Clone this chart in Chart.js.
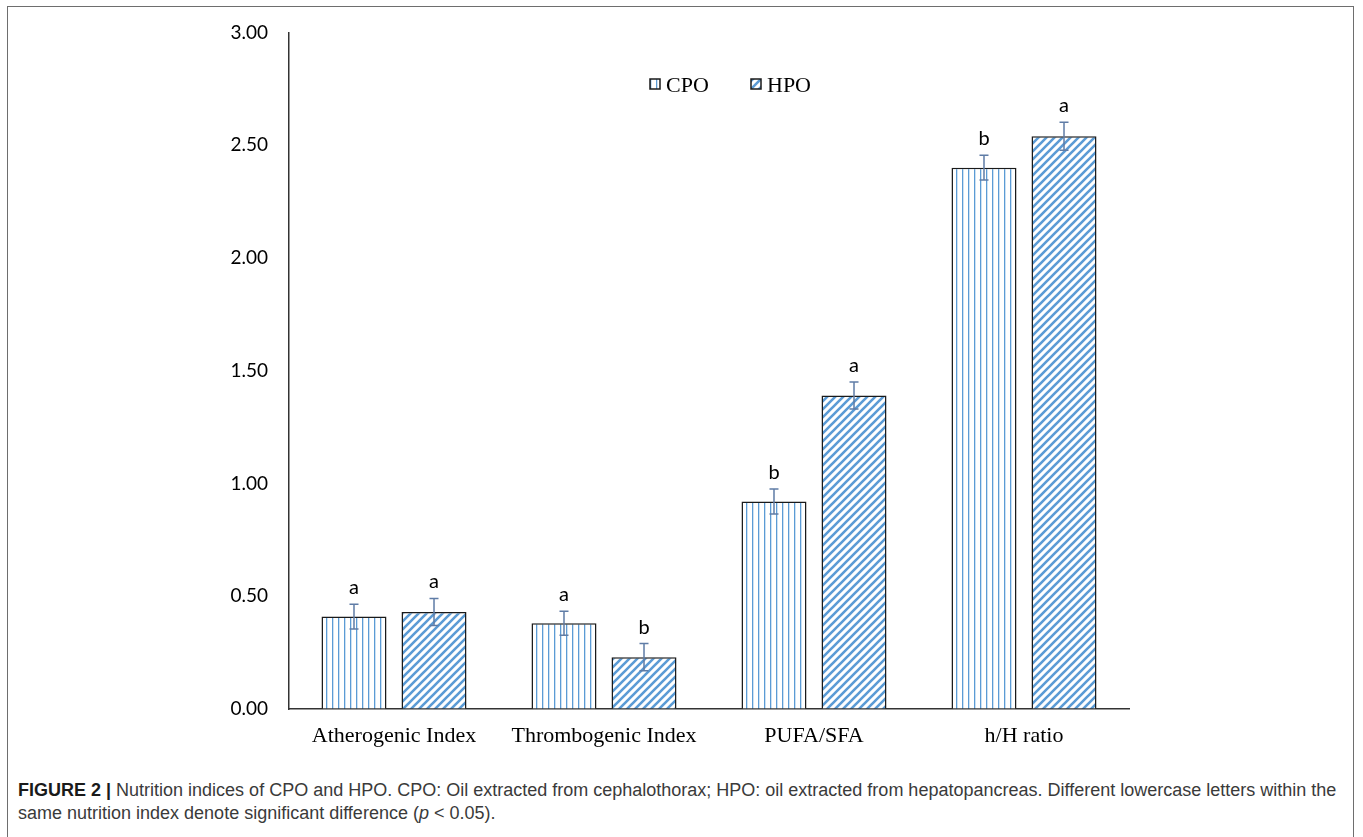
<!DOCTYPE html>
<html>
<head>
<meta charset="utf-8">
<script src="https://cdn.jsdelivr.net/npm/chart.js@4.4.0/dist/chart.umd.min.js"></script>
<style>
  html, body { margin: 0; padding: 0; background: #fff; }
  body { width: 1363px; height: 837px; position: relative; overflow: hidden; }
  #frame { position: absolute; left: 7px; top: 6px; width: 1347px; height: 860px; border: 1.5px solid #6e6e6e; box-sizing: border-box; }
  #grafico { position: absolute; left: 0; top: 0; }
  #legenda { position: absolute; left: 18px; top: 779px; font-family: "Liberation Sans", Arial, sans-serif; font-size: 18px; line-height: 23px; color: #3a3a3a; white-space: nowrap; }
  #legenda b { color: #1a1a1a; }
</style>
</head>
<body>
<div id="frame"></div>
<canvas id="grafico" width="1363" height="775"></canvas>
<div id="legenda"><b>FIGURE 2 |</b> Nutrition indices of CPO and HPO. CPO: Oil extracted from cephalothorax; HPO: oil extracted from hepatopancreas. Different lowercase letters within the<br>same nutrition index denote significant difference (<i>p</i> &lt; 0.05).</div>
<script>
const indices = ['Atherogenic Index', 'Thrombogenic Index', 'PUFA/SFA', 'h/H ratio'];
const series = ['CPO', 'HPO'];
const cpo = [0.41, 0.38, 0.92, 2.40];
const hpo = [0.43, 0.23, 1.39, 2.54];
const cpoErro = [0.055, 0.053, 0.055, 0.055];
const hpoErro = [0.06, 0.06, 0.06, 0.062];
const cpoLetras = ['a', 'a', 'b', 'b'];
const hpoLetras = ['a', 'b', 'a', 'a'];
const yTicks = [0, 0.5, 1, 1.5, 2, 2.5, 3];

const azul = '#5b9bd5';

// listras verticais (CPO)
function padraoVertical() {
  const c = document.createElement('canvas');
  c.width = 6; c.height = 6;
  const g = c.getContext('2d');
  g.fillStyle = '#fff';
  g.fillRect(0, 0, 6, 6);
  g.fillStyle = azul;
  g.fillRect(2, 0, 1.3, 6);
  return g.createPattern(c, 'repeat');
}

// listras diagonais (HPO), periodo 8
function padraoDiagonal() {
  const c = document.createElement('canvas');
  c.width = 8; c.height = 8;
  const g = c.getContext('2d');
  g.fillStyle = '#fff';
  g.fillRect(0, 0, 8, 8);
  g.strokeStyle = azul;
  g.lineWidth = 2.6;
  g.beginPath();
  g.moveTo(-1, 9); g.lineTo(9, -1);
  g.moveTo(-5, 5); g.lineTo(5, -5);
  g.moveTo(3, 13); g.lineTo(13, 3);
  g.stroke();
  return g.createPattern(c, 'repeat');
}

const erros = [cpoErro, hpoErro];
const letras = [cpoLetras, hpoLetras];

const errosPlugin = {
  id: 'errosLetras',
  afterDatasetsDraw(chart) {
    const ctx = chart.ctx;
    const y = chart.scales.y;
    chart.data.datasets.forEach((ds, i) => {
      const meta = chart.getDatasetMeta(i);
      meta.data.forEach((bar, j) => {
        const v = ds.data[j];
        const e = erros[i][j];
        const yt = y.getPixelForValue(v + e);
        const yb = y.getPixelForValue(v - e);
        ctx.save();
        ctx.strokeStyle = '#5f7ca6';
        ctx.lineWidth = 1.5;
        ctx.beginPath();
        ctx.moveTo(bar.x, yt); ctx.lineTo(bar.x, yb);
        ctx.moveTo(bar.x - 4.5, yt); ctx.lineTo(bar.x + 4.5, yt);
        ctx.moveTo(bar.x - 4.5, yb); ctx.lineTo(bar.x + 4.5, yb);
        ctx.stroke();
        ctx.fillStyle = '#000';
        ctx.font = '20px Lato';
        ctx.textAlign = 'center';
        ctx.textBaseline = 'alphabetic';
        ctx.fillText(letras[i][j], bar.x, yt - 10);
        ctx.restore();
      });
    });
  },
  afterDraw(chart) {
    // legenda desenhada a mao
    const ctx = chart.ctx;
    const pos = [650, 751];
    chart.data.datasets.forEach((ds, i) => {
      const x = pos[i];
      ctx.save();
      ctx.fillStyle = ds.backgroundColor;
      ctx.fillRect(x, 79, 10, 10);
      ctx.strokeStyle = '#1a1a1a';
      ctx.lineWidth = 1.5;
      ctx.strokeRect(x, 79, 10, 10);
      ctx.fillStyle = '#000';
      ctx.font = '22px "Liberation Serif"';
      ctx.textAlign = 'left';
      ctx.textBaseline = 'alphabetic';
      ctx.fillText(ds.label, x + 16, 92);
      ctx.restore();
    });
  }
};

new Chart(document.getElementById('grafico').getContext('2d'), {
  type: 'bar',
  data: {
    labels: indices,
    datasets: [{
      label: series[0],
      data: cpo,
      backgroundColor: padraoVertical(),
      borderColor: '#1a1a1a',
      borderWidth: 1.5
    }, {
      label: series[1],
      data: hpo,
      backgroundColor: padraoDiagonal(),
      borderColor: '#1a1a1a',
      borderWidth: 1.5
    }]
  },
  options: {
    responsive: false,
    animation: false,
    devicePixelRatio: 1,
    categoryPercentage: 0.762,
    barPercentage: 0.8125,
    layout: { padding: { left: 0, top: 32, right: 234, bottom: 0 } },
    plugins: {
      legend: { display: false },
      tooltip: { enabled: false }
    },
    scales: {
      x: {
        afterFit(scale) { scale.height = 66; },
        grid: { drawOnChartArea: false, drawTicks: false, color: 'transparent' },
        border: { display: true, color: '#333', width: 1.5 },
        ticks: { color: '#000', font: { family: 'Liberation Serif', size: 22 }, padding: 14 }
      },
      y: {
        min: 0,
        max: 3,
        afterFit(scale) { scale.width = 289; },
        afterBuildTicks(scale) { scale.ticks = yTicks.map(v => ({ value: v })); },
        grid: { drawOnChartArea: false, drawTicks: false, color: 'transparent' },
        border: { display: true, color: '#333', width: 1.5 },
        ticks: {
          color: '#000',
          font: { family: 'Lato', size: 19 },
          padding: 21,
          callback: v => Number(v).toFixed(2)
        }
      }
    }
  },
  plugins: [errosPlugin]
});
</script>
</body>
</html>
